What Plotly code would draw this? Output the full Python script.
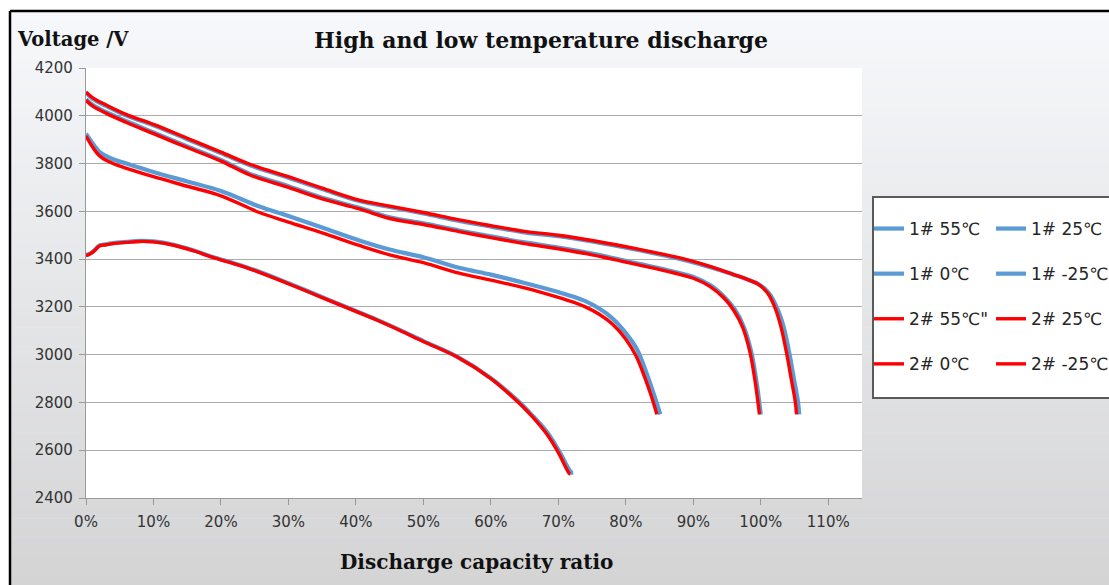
import plotly.graph_objects as go

# ---- discharge curves: capacity ratio (fraction) vs voltage (mV) ----
cap_55_2 = [0, 0.01, 0.03, 0.06, 0.10, 0.15, 0.20, 0.243, 0.30, 0.35, 0.405, 0.45, 0.50, 0.553,
            0.60, 0.65, 0.70, 0.75, 0.82, 0.88, 0.91, 0.938, 0.96, 0.98, 0.997, 1.01, 1.022,
            1.03, 1.038, 1.045, 1.051, 1.053]
volt_55_2 = [4100, 4075, 4045, 4005, 3964, 3906, 3848, 3797, 3745, 3697, 3647, 3622, 3595, 3564,
             3540, 3516, 3500, 3478, 3441, 3405, 3382, 3357, 3335, 3315, 3293, 3258, 3190,
             3115, 3010, 2900, 2805, 2750]
cap_55_1 = [0, 0.01, 0.03, 0.06, 0.10, 0.15, 0.20, 0.243, 0.30, 0.35, 0.405, 0.45, 0.50, 0.553,
            0.60, 0.65, 0.70, 0.75, 0.82, 0.88, 0.91, 0.938, 0.96, 0.98, 0.998, 1.012, 1.025,
            1.034, 1.042, 1.049, 1.055, 1.057]
volt_55_1 = [4096, 4071, 4041, 4001, 3960, 3902, 3844, 3793, 3741, 3693, 3643, 3618, 3591, 3560,
             3536, 3512, 3496, 3474, 3437, 3401, 3379, 3355, 3335, 3315, 3293, 3258, 3190,
             3115, 3010, 2900, 2805, 2750]

cap_25_2 = [0, 0.01, 0.03, 0.06, 0.10, 0.15, 0.20, 0.243, 0.30, 0.35, 0.405, 0.45, 0.50, 0.553,
            0.60, 0.65, 0.70, 0.75, 0.82, 0.87, 0.90, 0.925, 0.945, 0.96, 0.973, 0.984, 0.992, 0.998]
volt_25_2 = [4065, 4040, 4010, 3972, 3925, 3867, 3810, 3752, 3700, 3652, 3610, 3570, 3545, 3515,
             3490, 3465, 3443, 3418, 3375, 3343, 3320, 3285, 3238, 3185, 3115, 3010, 2880, 2750]
cap_25_1 = [0, 0.01, 0.03, 0.06, 0.10, 0.15, 0.20, 0.243, 0.30, 0.35, 0.405, 0.45, 0.50, 0.553,
            0.60, 0.65, 0.70, 0.75, 0.82, 0.87, 0.90, 0.926, 0.946, 0.962, 0.975, 0.986, 0.994, 1.0]
volt_25_1 = [4069, 4045, 4015, 3977, 3930, 3872, 3815, 3757, 3705, 3657, 3615, 3575, 3550, 3520,
             3495, 3470, 3448, 3423, 3380, 3348, 3325, 3289, 3241, 3187, 3115, 3010, 2880, 2750]

cap_0_2 = [0, 0.01, 0.021, 0.04, 0.06, 0.10, 0.15, 0.20, 0.257, 0.30, 0.35, 0.405, 0.45, 0.50,
           0.553, 0.60, 0.65, 0.70, 0.72, 0.74, 0.76, 0.78, 0.80, 0.815, 0.828, 0.838, 0.846]
volt_0_2 = [3915, 3868, 3830, 3800, 3780, 3745, 3705, 3665, 3595, 3555, 3510, 3457, 3418, 3385,
            3341, 3312, 3280, 3240, 3222, 3200, 3170, 3128, 3065, 2995, 2905, 2825, 2750]
cap_0_1 = [0, 0.01, 0.021, 0.04, 0.06, 0.10, 0.15, 0.20, 0.257, 0.30, 0.35, 0.405, 0.45, 0.50,
           0.553, 0.60, 0.65, 0.70, 0.72, 0.74, 0.76, 0.78, 0.80, 0.817, 0.831, 0.842, 0.851]
volt_0_1 = [3925, 3884, 3847, 3818, 3800, 3765, 3725, 3685, 3620, 3580, 3532, 3478, 3440, 3408,
            3364, 3335, 3300, 3262, 3245, 3224, 3194, 3152, 3090, 3020, 2920, 2830, 2750]

cap_m25_2 = [0, 0.005, 0.011, 0.02, 0.03, 0.04, 0.06, 0.08, 0.10, 0.13, 0.16, 0.19, 0.22, 0.25,
             0.30, 0.35, 0.40, 0.43, 0.464, 0.50, 0.55, 0.60, 0.637, 0.66, 0.682, 0.70, 0.716, 0.718]
volt_m25_2 = [3415, 3420, 3431, 3455, 3460, 3465, 3470, 3474, 3472, 3458, 3434, 3405, 3380, 3352,
              3297, 3239, 3181, 3146, 3103, 3055, 2990, 2900, 2810, 2745, 2671, 2590, 2503, 2500]
cap_m25_1 = [0, 0.005, 0.011, 0.02, 0.03, 0.04, 0.06, 0.08, 0.10, 0.13, 0.16, 0.19, 0.22, 0.25,
             0.30, 0.35, 0.40, 0.43, 0.464, 0.50, 0.55, 0.60, 0.638, 0.661, 0.684, 0.702, 0.719, 0.722]
volt_m25_1 = [3417, 3422, 3433, 3457, 3462, 3467, 3472, 3476, 3474, 3460, 3436, 3407, 3382, 3354,
              3299, 3241, 3183, 3148, 3105, 3057, 2992, 2902, 2812, 2747, 2673, 2592, 2508, 2506]

x_ticks = [0, 0.1, 0.2, 0.3, 0.4, 0.5, 0.6, 0.7, 0.8, 0.9, 1.0, 1.1]
x_tick_text = ["0%", "10%", "20%", "30%", "40%", "50%", "60%", "70%", "80%", "90%", "100%", "110%"]

BLUE = "#5b9bd5"
RED = "#ff0000"

# (name, x, y, colour, width, legend column)
series = [
    ("1# 55℃", cap_55_1, volt_55_1, BLUE, 4.2, "legend"),
    ("1# 25℃", cap_25_1, volt_25_1, BLUE, 4.2, "legend2"),
    ("1# 0℃", cap_0_1, volt_0_1, BLUE, 4.2, "legend"),
    ("1# -25℃", cap_m25_1, volt_m25_1, BLUE, 4.2, "legend2"),
    ("2# 55℃\"", cap_55_2, volt_55_2, RED, 3.4, "legend"),
    ("2# 25℃", cap_25_2, volt_25_2, RED, 3.4, "legend2"),
    ("2# 0℃", cap_0_2, volt_0_2, RED, 3.4, "legend"),
    ("2# -25℃", cap_m25_2, volt_m25_2, RED, 3.4, "legend2"),
]

fig = go.Figure()
for i, (name, xs, ys, col, w, lg) in enumerate(series):
    fig.add_trace(go.Scatter(
        x=xs, y=ys, mode="lines", name=name,
        line=dict(color=col, width=w, shape="spline", smoothing=1.0),
        legend=lg, legendgroup=f"g{i}",
    ))

W, H = 1109, 585
L, R, T, B = 86, 862, 68, 498  # plot area in pixels


def px_x(p):
    return (p - L) / (R - L)


def px_y(p):
    return (B - p) / (B - T)


shapes = []
# background gradient of the chart frame
n_bands = 60
top_c = (246, 248, 251)
bot_c = (212, 212, 213)
y0, y1 = 12, H
for k in range(n_bands):
    t = k / (n_bands - 1)
    c = tuple(round(top_c[j] + (bot_c[j] - top_c[j]) * t) for j in range(3))
    ya = y0 + (y1 - y0) * k / n_bands
    yb = y0 + (y1 - y0) * (k + 1) / n_bands + 0.6
    shapes.append(dict(type="rect", xref="paper", yref="paper", layer="below",
                       x0=px_x(11), x1=px_x(W + 5), y0=px_y(yb), y1=px_y(ya),
                       fillcolor=f"rgb{c}", line=dict(width=0)))
# white plotting area
shapes.append(dict(type="rect", xref="paper", yref="paper", layer="below",
                   x0=0, x1=1, y0=0, y1=1, fillcolor="white", line=dict(width=0)))
# black frame edges
shapes.append(dict(type="line", xref="paper", yref="paper", layer="above",
                   x0=px_x(10), x1=px_x(W + 5), y0=px_y(11), y1=px_y(11),
                   line=dict(color="black", width=2.5)))
shapes.append(dict(type="line", xref="paper", yref="paper", layer="above",
                   x0=px_x(10), x1=px_x(10), y0=px_y(11), y1=px_y(H + 5),
                   line=dict(color="black", width=2.5)))
# legend box
shapes.append(dict(type="rect", xref="paper", yref="paper", layer="below",
                   x0=px_x(873), x1=px_x(W + 20), y0=px_y(398), y1=px_y(197),
                   fillcolor="white", line=dict(width=0)))
shapes.append(dict(type="rect", xref="paper", yref="paper", layer="above",
                   x0=px_x(873), x1=px_x(W + 20), y0=px_y(398), y1=px_y(197),
                   fillcolor="rgba(0,0,0,0)", line=dict(color="#5a5a5a", width=2)))

serif = "DejaVu Serif"
annotations = [
    dict(text="<b>Voltage /V</b>", x=px_x(15), y=px_y(40), xref="paper", yref="paper",
         xanchor="left", yanchor="middle", showarrow=False,
         font=dict(family=serif, size=19.5, color="#111111")),
    dict(text="<b>High and low temperature discharge</b>", x=px_x(541), y=px_y(40),
         xref="paper", yref="paper", xanchor="center", yanchor="middle", showarrow=False,
         font=dict(family=serif, size=22, color="#111111")),
    dict(text="<b>Discharge capacity ratio</b>", x=px_x(476), y=px_y(562),
         xref="paper", yref="paper", xanchor="center", yanchor="middle", showarrow=False,
         font=dict(family=serif, size=20, color="#111111")),
]

tick_font = dict(family="DejaVu Sans", size=15, color="#333333")
legend_font = dict(family="DejaVu Sans", size=17, color="#262626")

fig.update_layout(
    width=W, height=H,
    margin=dict(l=L, r=W - R, t=T, b=H - B, autoexpand=False),
    paper_bgcolor="white", plot_bgcolor="rgba(0,0,0,0)",
    showlegend=True,
    legend=dict(x=px_x(869), y=px_y(211), xanchor="left", yanchor="top",
                bgcolor="rgba(0,0,0,0)", borderwidth=0, font=legend_font,
                tracegroupgap=20, itemclick=False, itemdoubleclick=False),
    legend2=dict(x=px_x(991), y=px_y(211), xanchor="left", yanchor="top",
                 bgcolor="rgba(0,0,0,0)", borderwidth=0, font=legend_font,
                 tracegroupgap=20, itemclick=False, itemdoubleclick=False),
    xaxis=dict(range=[0, 1.15], tickvals=x_ticks, ticktext=x_tick_text,
               showgrid=False, zeroline=False, showline=True, linecolor="#9a9a9a",
               linewidth=1.3, ticks="outside", ticklen=6, tickcolor="#9a9a9a",
               tickfont=tick_font, ticklabelstandoff=4),
    yaxis=dict(range=[2400, 4200], dtick=200, showgrid=True, gridcolor="#ababab",
               gridwidth=1.4, zeroline=False, showline=True, linecolor="#9a9a9a",
               linewidth=1.3, ticks="outside", ticklen=6, tickcolor="#9a9a9a",
               tickfont=tick_font, ticklabelstandoff=3),
    shapes=shapes, annotations=annotations,
)

fig.write_html("out.html")
